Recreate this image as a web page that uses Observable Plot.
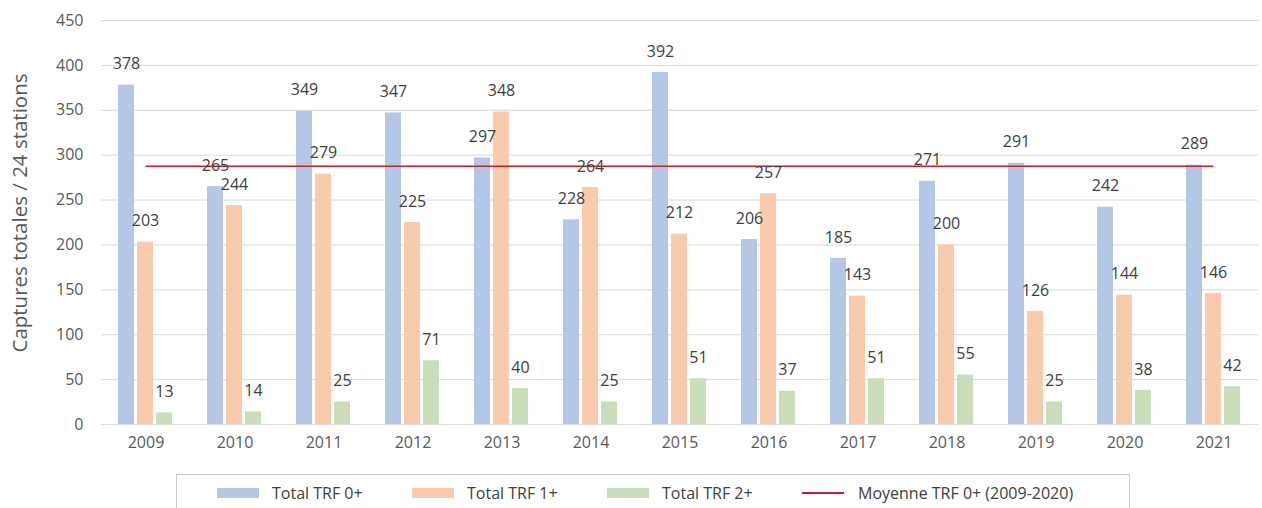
<!DOCTYPE html>
<html>
<head>
<meta charset="utf-8">
<script src="https://cdn.jsdelivr.net/npm/d3@7"></script>
<script src="https://cdn.jsdelivr.net/npm/@observablehq/plot@0.6"></script>
<style>
  html, body { margin: 0; padding: 0; background: #fff; }
  #chart { position: relative; width: 1262px; height: 508px; overflow: hidden; font-family: "Open Sans", sans-serif; }
  .legend { position: absolute; left: 176px; top: 474px; width: 954px; height: 44px; border: 1px solid #c8c8c8; box-sizing: border-box; display: flex; padding-left: 40px; }
  .item { width: 195px; display: flex; align-items: center; height: 36px; font-size: 16px; color: #404040; white-space: nowrap; }
  .sw { width: 42px; height: 10px; margin-right: 13px; flex: none; }
  .ln { width: 42px; height: 2px; margin-right: 14px; flex: none; }
</style>
</head>
<body>
<div id="chart"></div>
<script>
const years = ["2009","2010","2011","2012","2013","2014","2015","2016","2017","2018","2019","2020","2021"];
const trf0 = [378,265,349,347,297,228,392,206,185,271,291,242,289];
const trf1 = [203,244,279,225,348,264,212,257,143,200,126,144,146];
const trf2 = [13,14,25,71,40,25,51,37,51,55,25,38,42];
const seriesNames = ["Total TRF 0+","Total TRF 1+","Total TRF 2+"];
const seriesColors = ["#b4c7e7","#f8cbad","#c9ddb8"];
const meanLabel = "Moyenne TRF 0+ (2009-2020)";
const meanYears = years.slice(0, 12);
const yTicks = [0,50,100,150,200,250,300,350,400,450];
const yTitle = "Captures totales / 24 stations";

const seriesValues = [trf0, trf1, trf2];
const rows = [];
years.forEach((yr, i) => seriesNames.forEach((s, j) => rows.push({year: yr, series: s, value: seriesValues[j][i]})));
const mean = d3.mean(trf0.slice(0, meanYears.length));

const W = 1262, H = 470, mL = 98, mR = 2, mT = 20, mB = 46;
const halfStep = (W - mL - mR) / years.length / 2;
const meanColor = "#c0202a";

const chart = Plot.plot({
  width: W, height: H,
  marginLeft: mL, marginRight: mR, marginTop: mT, marginBottom: mB,
  style: {fontFamily: "Open Sans, sans-serif", fontSize: "16px", color: "#595959", background: "#fff"},
  fx: {domain: years, padding: 0, label: null, axis: "bottom", tickSize: 0, tickPadding: 12},
  x: {domain: seriesNames, paddingInner: 0.15, paddingOuter: 0.81, axis: null},
  y: {domain: [0, 450], ticks: yTicks, label: null, tickSize: 0, tickPadding: 18},
  color: {domain: seriesNames, range: seriesColors},
  marks: [
    Plot.ruleY(yTicks, {stroke: "#d9d9d9", strokeWidth: 1}),
    Plot.barY(rows, {fx: "year", x: "series", y: "value", fill: "series"}),
    Plot.ruleY(years.slice(1, -1), {fx: d => d, y: () => mean, stroke: meanColor, strokeWidth: 1.5}),
    Plot.ruleY(years.slice(0, 1), {fx: d => d, y: () => mean, stroke: meanColor, strokeWidth: 1.5, insetLeft: halfStep}),
    Plot.ruleY(years.slice(-1), {fx: d => d, y: () => mean, stroke: meanColor, strokeWidth: 1.5, insetRight: halfStep}),
    Plot.text(rows, {fx: "year", x: "series", y: "value", text: d => String(d.value), dy: -21, fill: "#404040", fontSize: 16})
  ]
});

const root = document.getElementById("chart");
root.appendChild(chart);

d3.select(chart).append("text")
  .attr("transform", `translate(22,${(mT + H - mB) / 2 - 9}) rotate(-90)`)
  .attr("text-anchor", "middle")
  .attr("dominant-baseline", "middle")
  .attr("fill", "#595959")
  .attr("font-size", 20.5)
  .attr("font-family", "Open Sans, sans-serif")
  .text(yTitle);

const legend = document.createElement("div");
legend.className = "legend";
seriesNames.forEach((s, i) => {
  const it = document.createElement("div"); it.className = "item";
  const sw = document.createElement("span"); sw.className = "sw"; sw.style.background = seriesColors[i];
  const tx = document.createElement("span"); tx.textContent = s;
  it.append(sw, tx); legend.appendChild(it);
});
{
  const it = document.createElement("div"); it.className = "item";
  const ln = document.createElement("span"); ln.className = "ln"; ln.style.background = meanColor;
  const tx = document.createElement("span"); tx.textContent = meanLabel;
  it.append(ln, tx); legend.appendChild(it);
}
root.appendChild(legend);
</script>
</body>
</html>
